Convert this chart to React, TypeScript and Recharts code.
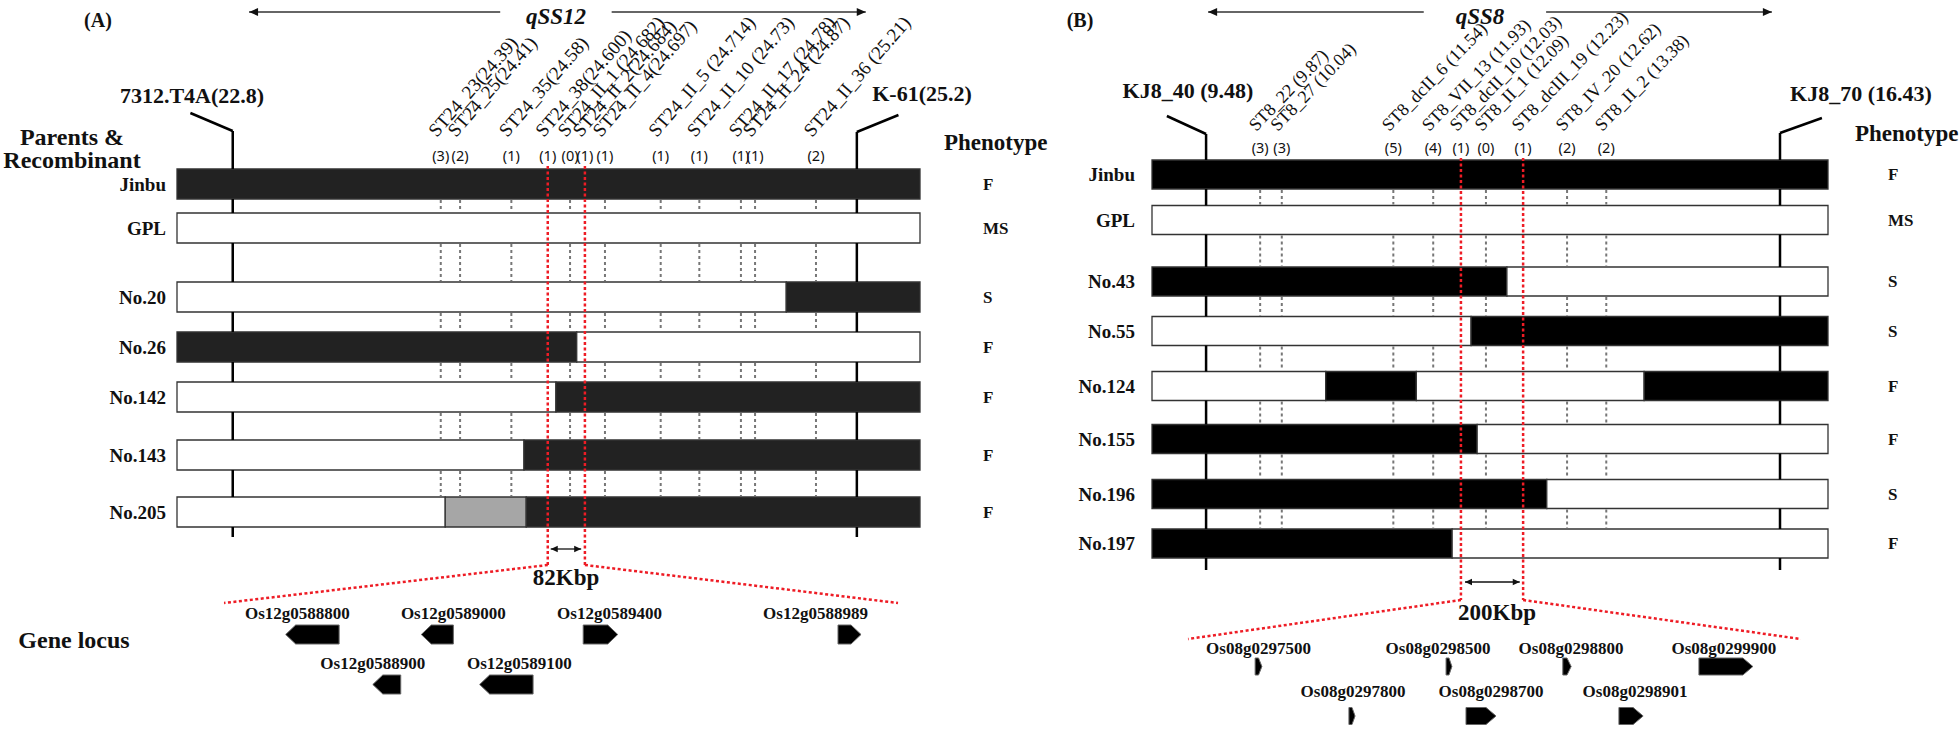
import React from 'react';
import { ComposedChart, XAxis, YAxis, ReferenceArea, ReferenceLine, ReferenceDot, Scatter } from 'recharts';

// ---------------- data : panel A (qSS12) ----------------
const qtlA = 'qSS12';
const markerNamesA = [
  'ST24_23(24.39)', 'ST24_25(24.41)', 'ST24_35(24.58)', 'ST24_38(24.600)', 'ST24_II_1 (24.682)',
  'ST24_II_2(24.684)', 'ST24_II_4(24.697)', 'ST24_II_5 (24.714)', 'ST24_II_10 (24.73)',
  'ST24_II_17 (24.78)', 'ST24_II_24 (24.87)', 'ST24_II_36 (25.21)',
];
// position along the drawn interval (0 = left end of bar, 100 = right end)
const markerPosA = [35.5, 38.1, 45.0, 49.9, 52.9, 54.9, 57.6, 65.1, 70.3, 75.9, 77.8, 86.0];
const recombCountA = [3, 2, 1, 1, 0, 1, 1, 1, 1, 1, 1, 2];
const redMarkersA = [3, 5];
const flankNamesA = ['7312.T4A(22.8)', 'K-61(25.2)'];
const flankPosA = [7.5, 91.5];
const linesA = ['Jinbu', 'GPL', 'No.20', 'No.26', 'No.142', 'No.143', 'No.205'];
const phenoA = ['F', 'MS', 'S', 'F', 'F', 'F', 'F'];
// J = Jinbu type, G = GPL type, H = heterozygous
const genoA: [number, number, string][][] = [
  [[0, 100, 'J']],
  [[0, 100, 'G']],
  [[0, 82.0, 'G'], [82.0, 100, 'J']],
  [[0, 53.8, 'J'], [53.8, 100, 'G']],
  [[0, 51.0, 'G'], [51.0, 100, 'J']],
  [[0, 46.7, 'G'], [46.7, 100, 'J']],
  [[0, 36.1, 'G'], [36.1, 47.0, 'H'], [47.0, 100, 'J']],
];
const intervalA = '82Kbp';
const intervalKbA = 82;
const geneNamesA = ['Os12g0588800', 'Os12g0589000', 'Os12g0589400', 'Os12g0588989', 'Os12g0588900', 'Os12g0589100'];
const geneStartA = [7.5, 24.0, 43.7, 74.7, 18.1, 31.1];
const geneEndA = [14.0, 27.9, 47.9, 77.5, 21.5, 37.6];
const geneStrandA = [-1, -1, 1, 1, -1, -1];
const geneTrackA = [0, 0, 0, 0, 1, 1];

// ---------------- data : panel B (qSS8) ----------------
const qtlB = 'qSS8';
const markerNamesB = [
  'ST8_22 (9.87)', 'ST8_27 (10.04)', 'ST8_dcII_6 (11.54)', 'ST8_VII_13 (11.93)', 'ST8_dcII_10 (12.03)',
  'ST8_II_1 (12.09)', 'ST8_dcIII_19 (12.23)', 'ST8_IV_20 (12.62)', 'ST8_II_2 (13.38)',
];
const markerPosB = [16.0, 19.2, 35.7, 41.6, 45.7, 49.4, 54.9, 61.4, 67.2];
const recombCountB = [3, 3, 5, 4, 1, 0, 1, 2, 2];
const redMarkersB = [4, 6];
const flankNamesB = ['KJ8_40 (9.48)', 'KJ8_70 (16.43)'];
const flankPosB = [8.0, 92.9];
const linesB = ['Jinbu', 'GPL', 'No.43', 'No.55', 'No.124', 'No.155', 'No.196', 'No.197'];
const phenoB = ['F', 'MS', 'S', 'S', 'F', 'F', 'S', 'F'];
const genoB: [number, number, string][][] = [
  [[0, 100, 'J']],
  [[0, 100, 'G']],
  [[0, 52.5, 'J'], [52.5, 100, 'G']],
  [[0, 47.2, 'G'], [47.2, 100, 'J']],
  [[0, 25.7, 'G'], [25.7, 39.1, 'J'], [39.1, 72.8, 'G'], [72.8, 100, 'J']],
  [[0, 48.1, 'J'], [48.1, 100, 'G']],
  [[0, 58.4, 'J'], [58.4, 100, 'G']],
  [[0, 44.4, 'J'], [44.4, 100, 'G']],
];
const intervalB = '200Kbp';
const intervalKbB = 200;
const geneNamesB = ['Os08g0297500', 'Os08g0298500', 'Os08g0298800', 'Os08g0299900', 'Os08g0297800', 'Os08g0298700', 'Os08g0298901'];
const geneStartB = [21.9, 84.2, 122.3, 166.7, 52.5, 90.7, 140.6];
const geneEndB = [24.1, 86.1, 125.0, 184.3, 54.5, 100.5, 148.5];
const geneStrandB = [1, 1, 1, 1, 1, 1, 1];
const geneTrackB = [0, 0, 0, 0, 1, 1, 1];

// ---------------- layout ----------------
const W = 1960;
const H = 730;
const SERIF = '"Liberation Serif", "Times New Roman", serif';
const SANS = '"Noto Sans", "Liberation Sans", sans-serif';

const LAYOUT_A = {
  id: 'A', tag: '(A)', tagX: 98, qtlX: 556,
  mapPx: [177, 920], rowY: [184, 228, 297, 347, 397, 455, 512], half: 15, dark: '#222',
  flankTopY: [113, 115], flankKneeY: [131, 132], flankDx: [-5.7, 5.6], flankBottomY: 537,
  flankLabel: [[192, 95], [922, 93]],
  redTop: 166, redBottom: 565, zoomY: 603, zoomEdges: [6.33, 97.04], spanArrow: [50.3, 54.4], spanArrowY: 549,
  countY: 155, labelDy: -17, labelAngle: 49, labelSize: 19,
  qtlArrow: [9.7, 43.5, 58.5, 92.7], qtlY: 12,
  geneArrowY: [634.5, 684.5], geneHalf: 9.5, geneLabelY: [613, 663], geneLabelDx: [-15, 16, 9, -34, -14, 13],
  lineLabelX: 166, phenoHeadX: 944, phenoHeadY: 142, phenoX: 983, kbp: [566, 577],
};
const LAYOUT_B = {
  id: 'B', tag: '(B)', tagX: 1080, qtlX: 1480,
  mapPx: [1152, 1828], rowY: [174.5, 220, 281.5, 331, 386, 439, 494, 543.5], half: 14.5, dark: '#000',
  flankTopY: [116, 118], flankKneeY: [134, 133], flankDx: [-5.8, 6.2], flankBottomY: 570,
  flankLabel: [[1188, 90], [1861, 93]],
  redTop: 158, redBottom: 600, zoomY: 639, zoomEdges: [5.33, 96.0], spanArrow: [46.3, 54.4], spanArrowY: 582,
  countY: 147, labelDy: -15, labelAngle: 46, labelSize: 18,
  qtlArrow: [8.3, 40.2, 58.3, 91.7], qtlY: 12,
  geneArrowY: [666.5, 716], geneHalf: 8.5, geneLabelY: [648, 691], geneLabelDx: [0, -11, 4, -2, 1, 10, 4],
  lineLabelX: 1135, phenoHeadX: 1855, phenoHeadY: 133, phenoX: 1888, kbp: [1497, 612],
};

const mapDomain = (L: any): [number, number] => {
  const [p0, p1] = L.mapPx;
  return [((0 - p0) / (p1 - p0)) * 100, ((W - p0) / (p1 - p0)) * 100];
};
const geneDomain = (L: any, span: number): [number, number] => {
  const [zl, zr] = L.zoomEdges;
  const d = mapDomain(L);
  return [((d[0] - zl) / (zr - zl)) * span, ((d[1] - zl) / (zr - zl)) * span];
};

const ALLELE_FILL = (a: string, dark: string) => (a === 'J' ? dark : a === 'H' ? '#a6a6a6' : '#ffffff');

const arrowHead = (dir: number, size = 8) => (p: any) => (
  <path d={`M${p.cx},${p.cy} L${p.cx - dir * size},${p.cy - size * 0.45} L${p.cx - dir * size},${p.cy + size * 0.45} Z`} fill="#111" />
);

const geneShape = (strand: number) => (p: any) => {
  const { x, y, width: w, height: h } = p;
  const tip = Math.min(10, w * 0.5);
  const m = y + h / 2;
  const d = strand > 0
    ? `M${x},${y} L${x + w - tip},${y} L${x + w},${m} L${x + w - tip},${y + h} L${x},${y + h} Z`
    : `M${x + w},${y} L${x + tip},${y} L${x},${m} L${x + tip},${y + h} L${x + w},${y + h} Z`;
  return <path d={d} fill="#000" stroke="#666" strokeWidth={1} />;
};

const textAt = (key: string, x: number, y: number, content: string, style: any = {}) => (
  <ReferenceDot
    key={key} xAxisId="px" yAxisId="y" x={x} y={y} r={0} ifOverflow="visible"
    shape={(p: any) => (
      <text x={p.cx} y={p.cy} dominantBaseline="central" textAnchor={style.anchor || 'middle'}
        fontFamily={SERIF} fontWeight={style.weight || 'bold'} fontStyle={style.italic ? 'italic' : 'normal'}
        fontSize={style.size || 18} fill="#111">
        {content}
      </text>
    )}
  />
);

function panelElements(d: any, L: any) {
  const ax = `map${L.id}`;
  const gx = `gene${L.id}`;
  const els: React.ReactNode[] = [];
  const n = d.lines.length;
  const top = (i: number) => L.rowY[i] - L.half;
  const bot = (i: number) => L.rowY[i] + L.half;
  const gaps: [number, number][] = [];
  for (let i = 0; i < n - 1; i++) gaps.push([bot(i), top(i + 1)]);
  const seg = (key: string, x1: number, y1: number, x2: number, y2: number, props: any, axis = ax) => (
    <ReferenceLine key={key} xAxisId={axis} yAxisId="y" ifOverflow="visible"
      segment={[{ x: x1, y: y1 }, { x: x2, y: y2 }]} {...props} />
  );

  // genotype blocks
  d.geno.forEach((row: [number, number, string][], i: number) => {
    row.forEach(([s, e, a], j) => {
      els.push(
        <ReferenceArea key={`g${L.id}${i}-${j}`} xAxisId={ax} yAxisId="y" x1={s} x2={e} y1={top(i)} y2={bot(i)}
          ifOverflow="visible" fill={ALLELE_FILL(a, L.dark)} fillOpacity={1} stroke="#333" strokeWidth={1.3} />
      );
    });
  });

  // flanking markers
  d.flankPos.forEach((fx: number, k: number) => {
    const black = { stroke: '#000', strokeWidth: 2.5 };
    els.push(seg(`fd${L.id}${k}`, fx + L.flankDx[k], L.flankTopY[k], fx, L.flankKneeY[k], black));
    els.push(seg(`ft${L.id}${k}`, fx, L.flankKneeY[k], fx, top(0), black));
    gaps.forEach(([a, b], g) => els.push(seg(`fg${L.id}${k}-${g}`, fx, a, fx, b, black)));
    els.push(seg(`fb${L.id}${k}`, fx, bot(n - 1), fx, L.flankBottomY, black));
  });

  // marker dashed lines between rows
  d.markerPos.forEach((mx: number, m: number) => {
    if (d.red.includes(m)) return;
    gaps.forEach(([a, b], g) =>
      els.push(seg(`m${L.id}${m}-${g}`, mx, a + 1, mx, b - 1, { stroke: '#777', strokeWidth: 2, strokeDasharray: '3 3' })));
  });

  // candidate interval (red) and zoom-out
  const red = { stroke: '#ee1c25', strokeWidth: 2.5, strokeDasharray: '3 2.5' };
  d.red.forEach((m: number, k: number) => {
    const mx = d.markerPos[m];
    els.push(seg(`r${L.id}${k}`, mx, L.redTop, mx, L.redBottom, red));
    els.push(seg(`rz${L.id}${k}`, mx, L.redBottom, L.zoomEdges[k], L.zoomY, red));
  });
  els.push(seg(`sa${L.id}`, L.spanArrow[0], L.spanArrowY, L.spanArrow[1], L.spanArrowY, { stroke: '#111', strokeWidth: 1.3 }));
  els.push(<ReferenceDot key={`sah0${L.id}`} xAxisId={ax} yAxisId="y" x={L.spanArrow[0]} y={L.spanArrowY} r={0} ifOverflow="visible" shape={arrowHead(-1, 7)} />);
  els.push(<ReferenceDot key={`sah1${L.id}`} xAxisId={ax} yAxisId="y" x={L.spanArrow[1]} y={L.spanArrowY} r={0} ifOverflow="visible" shape={arrowHead(1, 7)} />);

  // QTL arrow on top
  const q = L.qtlArrow;
  els.push(seg(`q0${L.id}`, q[0], L.qtlY, q[1], L.qtlY, { stroke: '#333', strokeWidth: 1.3 }));
  els.push(seg(`q1${L.id}`, q[2], L.qtlY, q[3], L.qtlY, { stroke: '#333', strokeWidth: 1.3 }));
  els.push(<ReferenceDot key={`qh0${L.id}`} xAxisId={ax} yAxisId="y" x={q[0]} y={L.qtlY} r={0} ifOverflow="visible" shape={arrowHead(-1, 9)} />);
  els.push(<ReferenceDot key={`qh1${L.id}`} xAxisId={ax} yAxisId="y" x={q[3]} y={L.qtlY} r={0} ifOverflow="visible" shape={arrowHead(1, 9)} />);

  // genes
  const pxPerKb = ((L.zoomEdges[1] - L.zoomEdges[0]) * (L.mapPx[1] - L.mapPx[0])) / 100 / d.intervalKb;
  d.geneNames.forEach((g: string, i: number) => {
    const t = d.geneTrack[i];
    els.push(
      <ReferenceArea key={`ge${L.id}${i}`} xAxisId={gx} yAxisId="y" x1={d.geneStart[i]} x2={d.geneEnd[i]}
        y1={L.geneArrowY[t] - L.geneHalf} y2={L.geneArrowY[t] + L.geneHalf} ifOverflow="visible"
        fill="#000" fillOpacity={1} shape={geneShape(d.geneStrand[i])} />
    );
    const mid = (d.geneStart[i] + d.geneEnd[i]) / 2 + L.geneLabelDx[i] / pxPerKb;
    els.push(
      <ReferenceDot key={`gl${L.id}${i}`} xAxisId={gx} yAxisId="y" x={mid} y={L.geneLabelY[t]} r={0} ifOverflow="visible"
        shape={(p: any) => (
          <text x={p.cx} y={p.cy} textAnchor="middle" dominantBaseline="central" fontFamily={SERIF}
            fontWeight="bold" fontSize={17} fill="#111">{g}</text>
        )} />
    );
  });

  // texts
  els.push(textAt(`tag${L.id}`, L.tagX, 20, L.tag, { size: 20 }));
  els.push(textAt(`qtl${L.id}`, L.qtlX, 16, d.qtl, { size: 23, italic: true }));
  d.flankNames.forEach((f: string, k: number) => els.push(textAt(`fl${L.id}${k}`, L.flankLabel[k][0], L.flankLabel[k][1], f, { size: 22 })));
  d.lines.forEach((ln: string, i: number) => els.push(textAt(`ln${L.id}${i}`, L.lineLabelX, L.rowY[i], ln, { size: 19, anchor: 'end' })));
  d.pheno.forEach((ph: string, i: number) => els.push(textAt(`ph${L.id}${i}`, L.phenoX, L.rowY[i], ph, { size: 17, anchor: 'start' })));
  els.push(textAt(`phh${L.id}`, L.phenoHeadX, L.phenoHeadY, 'Phenotype', { size: 23, anchor: 'start' }));
  els.push(textAt(`kb${L.id}`, L.kbp[0], L.kbp[1], d.interval, { size: 23 }));
  return els;
}

const markerData = (names: string[], pos: number[], counts: number[], y: number) =>
  names.map((name, i) => ({ x: pos[i], y, name, count: counts[i] }));

const markerShape = (L: any) => (p: any) => {
  const e = p.payload || p;
  const sx = p.cx - 4;
  const sy = p.cy + L.labelDy;
  return (
    <g>
      <text x={p.cx} y={p.cy} textAnchor="middle" dominantBaseline="central" fontFamily={SANS} fontSize={14.5} fill="#111">
        ({e.count})
      </text>
      <text x={sx} y={sy} transform={`rotate(${-L.labelAngle} ${sx} ${sy})`} fontFamily={SERIF} fontSize={L.labelSize} fill="#111">
        {e.name}
      </text>
    </g>
  );
};

const dataA = {
  qtl: qtlA, markerPos: markerPosA, red: redMarkersA, flankNames: flankNamesA, flankPos: flankPosA,
  lines: linesA, pheno: phenoA, geno: genoA, interval: intervalA, intervalKb: intervalKbA,
  geneNames: geneNamesA, geneStart: geneStartA, geneEnd: geneEndA, geneStrand: geneStrandA, geneTrack: geneTrackA,
};
const dataB = {
  qtl: qtlB, markerPos: markerPosB, red: redMarkersB, flankNames: flankNamesB, flankPos: flankPosB,
  lines: linesB, pheno: phenoB, geno: genoB, interval: intervalB, intervalKb: intervalKbB,
  geneNames: geneNamesB, geneStart: geneStartB, geneEnd: geneEndB, geneStrand: geneStrandB, geneTrack: geneTrackB,
};

export default function App() {
  return (
    <div style={{ width: W, height: H, background: '#fff' }}>
      <style>{'body{margin:0;background:#fff}'}</style>
      <ComposedChart width={W} height={H} margin={{ top: 0, right: 0, bottom: 0, left: 0 }}>
        <XAxis xAxisId="px" type="number" dataKey="x" domain={[0, W]} hide allowDataOverflow />
        <XAxis xAxisId="mapA" type="number" dataKey="x" domain={mapDomain(LAYOUT_A)} hide allowDataOverflow />
        <XAxis xAxisId="mapB" type="number" dataKey="x" domain={mapDomain(LAYOUT_B)} hide allowDataOverflow />
        <XAxis xAxisId="geneA" type="number" dataKey="x" domain={geneDomain(LAYOUT_A, intervalKbA)} hide allowDataOverflow />
        <XAxis xAxisId="geneB" type="number" dataKey="x" domain={geneDomain(LAYOUT_B, intervalKbB)} hide allowDataOverflow />
        <YAxis yAxisId="y" type="number" dataKey="y" domain={[0, H]} reversed hide allowDataOverflow />

        {panelElements(dataA, LAYOUT_A)}
        {panelElements(dataB, LAYOUT_B)}

        {textAt('par', 72, 137, 'Parents &', { size: 24 })}
        {textAt('rec', 72, 160, 'Recombinant', { size: 24 })}
        {textAt('gl', 74, 640, 'Gene locus', { size: 24 })}

        <Scatter xAxisId="mapA" yAxisId="y" data={markerData(markerNamesA, markerPosA, recombCountA, LAYOUT_A.countY)}
          shape={markerShape(LAYOUT_A)} isAnimationActive={false} />
        <Scatter xAxisId="mapB" yAxisId="y" data={markerData(markerNamesB, markerPosB, recombCountB, LAYOUT_B.countY)}
          shape={markerShape(LAYOUT_B)} isAnimationActive={false} />
      </ComposedChart>
    </div>
  );
}
